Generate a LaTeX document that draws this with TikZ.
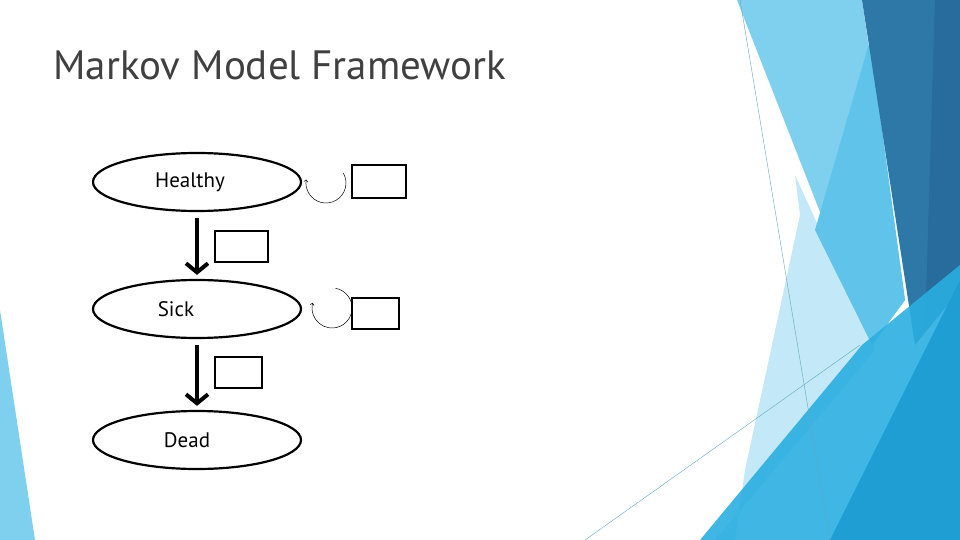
\documentclass[tikz,border=0pt]{standalone}
\usepackage{fontspec}
\setmainfont{PT Sans}
\usetikzlibrary{positioning,arrows.meta,shapes.geometric}
\definecolor{paleblue}{HTML}{C3E8F7}
\definecolor{lightblue}{HTML}{7FD0EE}
\definecolor{midblue}{HTML}{60C4EA}
\definecolor{darkblue}{HTML}{2E78A8}
\definecolor{deepblue}{HTML}{286B9D}
\definecolor{brightblue}{HTML}{2AAEE0}
\definecolor{seablue}{HTML}{1E9ED3}
\begin{document}
\begin{tikzpicture}[x=1pt,y=-1pt]
\tikzset{state/.style={ellipse,draw,line width=2.2pt,minimum width=208pt,minimum height=58pt,font=\fontsize{21}{24}\selectfont},
         ratebox/.style={draw,line width=2pt,inner sep=0pt},
         trans/.style={line width=4pt,-{Straight Barb[length=9pt,width=22pt,line width=4pt]}},
         loop/.style={line width=0.5pt,-{Straight Barb[length=2pt,width=4pt]}}}
\useasboundingbox (0,0) rectangle (960,540);
% background
\fill[paleblue] (795,175) -- (875,350) -- (715,540) -- (735,540) -- (745,470) -- (800,215) -- cycle;
\fill[lightblue] (737,0) -- (862,0) -- (905,300) -- (872,345) -- cycle;
\fill[midblue] (870,40) -- (905,300) -- (872,345) -- (815,230) -- cycle;
\fill[darkblue] (862,0) -- (960,0) -- (960,290) -- (915,345) -- cycle;
\fill[deepblue] (935,0) -- (960,0) -- (960,290) -- (925,330) -- cycle;
\fill[brightblue,opacity=0.9] (700,540) -- (862,345) -- (960,265) -- (960,540) -- cycle;
\fill[seablue] (830,540) -- (960,280) -- (960,540) -- cycle;
\fill[lightblue] (0,310) -- (35,540) -- (0,540) -- cycle;
\draw[lightblue!80!black,line width=0.4pt] (740,0) -- (830,540);
\draw[lightblue!80!black,line width=0.4pt] (585,540) -- (860,345);
% title
\node[anchor=west,font=\fontsize{41}{46}\selectfont,text=black!75] (title) at (50,65) {Markov Model Framework};
% states
\node[state] (healthy) at (197,182) {\hspace{-14pt}Healthy};
\node[state] (sick) at (197,309) {\hspace{-42pt}Sick};
\node[state] (dead) at (197,440) {\hspace{-20pt}Dead};
% transitions
\draw[trans] ([yshift=-6pt]healthy.south) -- ([yshift=4pt]sick.north);
\draw[trans] ([yshift=-6pt]sick.south) -- ([yshift=4pt]dead.north);
% rate boxes
\node[ratebox,minimum width=53pt,minimum height=31pt] (hs) at (241.5,246.5) {};
\node[ratebox,minimum width=47pt,minimum height=31pt] (sd) at (238.5,372.5) {};
\node[ratebox,minimum width=54pt,minimum height=33pt] (hh) at (379,181.5) {};
\node[ratebox,minimum width=47pt,minimum height=31pt] (ss) at (375.5,313.5) {};
% self loops
\coordinate (hloop) at (326,183);
\coordinate (sloop) at (332,308);
\draw[loop] ([shift={(17.3,-10)}]hloop) arc (-30:190:20);
\draw[loop] ([shift={(3.5,-19.7)}]sloop) arc (-80:195:20);
\end{tikzpicture}
\end{document}
